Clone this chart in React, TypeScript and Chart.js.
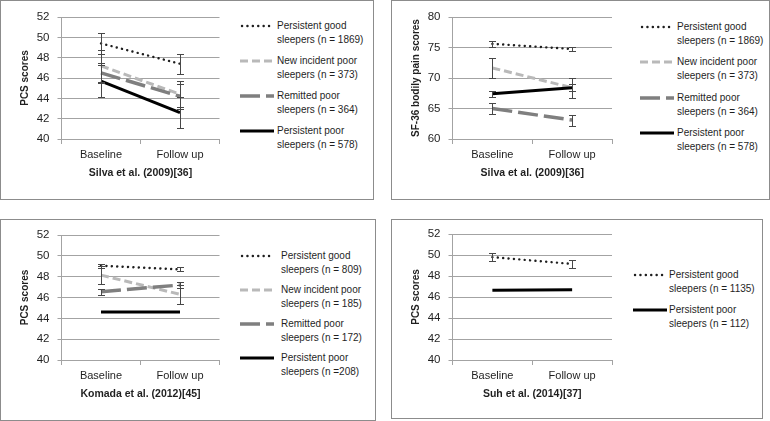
import React, { useEffect, useRef } from "react";
import { Chart, registerables } from "chart.js";

Chart.register(...registerables);
Chart.defaults.font.family = "'Liberation Sans', Arial, sans-serif";

// ---------- data ----------
const categories = ["Baseline", "Follow up"];
const pcsTicks = [40, 42, 44, 46, 48, 50, 52];
const painTicks = [60, 65, 70, 75, 80];

// Silva et al. (2009) – PCS
const silvaPcsGood = [49.4, 47.4];
const silvaPcsGoodErr = [1.05, 1.0];
const silvaPcsNewIncident = [47.2, 44.4];
const silvaPcsNewIncidentErr = [1.6, 1.3];
const silvaPcsRemitted = [46.5, 44.2];
const silvaPcsRemittedErr = [1.0, 1.2];
const silvaPcsPoor = [45.7, 42.6];
const silvaPcsPoorErr = [1.6, 1.5];

// Silva et al. (2009) – SF-36 bodily pain
const silvaPainGood = [75.6, 74.75];
const silvaPainGoodErr = [0.5, 0.35];
const silvaPainNewIncident = [71.65, 68.4];
const silvaPainNewIncidentErr = [1.65, 1.6];
const silvaPainRemitted = [65.0, 63.1];
const silvaPainRemittedErr = [0.95, 0.9];
const silvaPainPoor = [67.4, 68.4];
const silvaPainPoorErr = [0.5, 0.55];

// Komada et al. (2012) – PCS
const komadaGood = [49.05, 48.7];
const komadaGoodErr = [0.2, 0.2];
const komadaNewIncident = [48.15, 46.3];
const komadaNewIncidentErr = [0.9, 0.9];
const komadaRemitted = [46.55, 47.2];
const komadaRemittedErr = [0.3, 0.25];
const komadaPoor = [44.6, 44.6];
const komadaPoorErr = [0, 0];

// Suh et al. (2014) – PCS
const suhGood = [49.8, 49.15];
const suhGoodErr = [0.38, 0.38];
const suhPoor = [46.65, 46.7];
const suhPoorErr = [0, 0];

// legend labels (two lines each)
const silvaLabels = [
  ["Persistent good", "sleepers (n = 1869)"],
  ["New incident poor", "sleepers (n = 373)"],
  ["Remitted poor", "sleepers (n = 364)"],
  ["Persistent poor", "sleepers (n = 578)"],
];
const komadaLabels = [
  ["Persistent good", "sleepers (n = 809)"],
  ["New incident poor", "sleepers (n = 185)"],
  ["Remitted poor", "sleepers (n = 172)"],
  ["Persistent poor", "sleepers (n =208)"],
];
const suhLabels = [
  ["Persistent good", "sleepers (n = 1135)"],
  ["Persistent poor", "sleepers (n = 112)"],
];

// ---------- styles ----------
const GRID = "#a3a3a3";
const TEXT = "#1f1f1f";
const BORDER = "#8c8c8c";

type Kind = "good" | "newIncident" | "remitted" | "poor";
const STYLE: Record<Kind, { color: string; width: number; dash: number[]; cap: CanvasLineCap }> = {
  good: { color: "#1e1e1e", width: 2.4, dash: [0.1, 5.3], cap: "round" },
  newIncident: { color: "#b9b9b9", width: 3, dash: [8, 4], cap: "butt" },
  remitted: { color: "#7f7f7f", width: 3.5, dash: [20, 6], cap: "butt" },
  poor: { color: "#000000", width: 3, dash: [], cap: "butt" },
};

type Series = { kind: Kind; values: number[]; errors: number[]; label: string[] };

type PanelCfg = {
  box: { left: number; top: number; width: number; height: number };
  canvas: { left: number; top: number; width: number; height: number };
  padTop: number;
  padRight: number;
  yWidth: number;
  xHeight: number;
  xTitlePad: number;
  xTitleSize: number;
  yTitle: string;
  xTitle: string;
  ticks: number[];
  series: Series[];
  legend: { sampleX: number; textX: number; firstY: number; step: number };
};

const panels: PanelCfg[] = [
  {
    box: { left: 0, top: 0, width: 374, height: 200 },
    canvas: { left: 0, top: 0, width: 232, height: 199 },
    padTop: 17,
    padRight: 12.5,
    yWidth: 61.5,
    xHeight: 60,
    xTitlePad: 20,
    xTitleSize: 10.5,
    yTitle: "PCS scores",
    xTitle: "Silva et al. (2009)[36]",
    ticks: pcsTicks,
    series: [
      { kind: "good", values: silvaPcsGood, errors: silvaPcsGoodErr, label: silvaLabels[0] },
      { kind: "newIncident", values: silvaPcsNewIncident, errors: silvaPcsNewIncidentErr, label: silvaLabels[1] },
      { kind: "remitted", values: silvaPcsRemitted, errors: silvaPcsRemittedErr, label: silvaLabels[2] },
      { kind: "poor", values: silvaPcsPoor, errors: silvaPcsPoorErr, label: silvaLabels[3] },
    ],
    legend: { sampleX: 240, textX: 277, firstY: 26, step: 35.1 },
  },
  {
    box: { left: 391, top: 0, width: 379, height: 200 },
    canvas: { left: 391, top: 0, width: 232, height: 199 },
    padTop: 17,
    padRight: 11,
    yWidth: 61.5,
    xHeight: 60,
    xTitlePad: 20,
    xTitleSize: 10.5,
    yTitle: "SF-36 bodily pain scores",
    xTitle: "Silva et al. (2009)[36]",
    ticks: painTicks,
    series: [
      { kind: "good", values: silvaPainGood, errors: silvaPainGoodErr, label: silvaLabels[0] },
      { kind: "newIncident", values: silvaPainNewIncident, errors: silvaPainNewIncidentErr, label: silvaLabels[1] },
      { kind: "remitted", values: silvaPainRemitted, errors: silvaPainRemittedErr, label: silvaLabels[2] },
      { kind: "poor", values: silvaPainPoor, errors: silvaPainPoorErr, label: silvaLabels[3] },
    ],
    legend: { sampleX: 640, textX: 677, firstY: 26.5, step: 35.5 },
  },
  {
    box: { left: 0, top: 219, width: 376, height: 202 },
    canvas: { left: 0, top: 219, width: 232, height: 201 },
    padTop: 16,
    padRight: 12.5,
    yWidth: 61.5,
    xHeight: 60,
    xTitlePad: 20,
    xTitleSize: 10.5,
    yTitle: "PCS scores",
    xTitle: "Komada et al. (2012)[45]",
    ticks: pcsTicks,
    series: [
      { kind: "good", values: komadaGood, errors: komadaGoodErr, label: komadaLabels[0] },
      { kind: "newIncident", values: komadaNewIncident, errors: komadaNewIncidentErr, label: komadaLabels[1] },
      { kind: "remitted", values: komadaRemitted, errors: komadaRemittedErr, label: komadaLabels[2] },
      { kind: "poor", values: komadaPoor, errors: komadaPoorErr, label: komadaLabels[3] },
    ],
    legend: { sampleX: 240, textX: 281, firstY: 256, step: 34.1 },
  },
  {
    box: { left: 391, top: 219, width: 372, height: 200 },
    canvas: { left: 391, top: 219, width: 232, height: 199 },
    padTop: 15,
    padRight: 11,
    yWidth: 61.5,
    xHeight: 58,
    xTitlePad: 18,
    xTitleSize: 10.5,
    yTitle: "PCS scores",
    xTitle: "Suh et al. (2014)[37]",
    ticks: pcsTicks,
    series: [
      { kind: "good", values: suhGood, errors: suhGoodErr, label: suhLabels[0] },
      { kind: "poor", values: suhPoor, errors: suhPoorErr, label: suhLabels[1] },
    ],
    legend: { sampleX: 633, textX: 669, firstY: 274.5, step: 35.7 },
  },
];

// ---------- error bar plugin ----------
const errorBarPlugin = {
  id: "errorBars",
  afterDatasetsDraw(chart: any) {
    const ctx = chart.ctx as CanvasRenderingContext2D;
    const yScale = chart.scales.y;
    chart.data.datasets.forEach((ds: any, i: number) => {
      const errs: number[] | undefined = ds.errors;
      if (!errs) return;
      const meta = chart.getDatasetMeta(i);
      meta.data.forEach((pt: any, j: number) => {
        const e = errs[j];
        if (!e) return;
        const v = ds.data[j] as number;
        const x = Math.round(pt.x) + 0.5;
        const yt = Math.round(yScale.getPixelForValue(v + e)) + 0.5;
        const yb = Math.round(yScale.getPixelForValue(v - e)) + 0.5;
        ctx.save();
        ctx.strokeStyle = "#474747";
        ctx.lineWidth = 1;
        ctx.setLineDash([]);
        ctx.beginPath();
        ctx.moveTo(x, yt);
        ctx.lineTo(x, yb);
        ctx.moveTo(x - 3.5, yt);
        ctx.lineTo(x + 3.5, yt);
        ctx.moveTo(x - 3.5, yb);
        ctx.lineTo(x + 3.5, yb);
        ctx.stroke();
        ctx.restore();
      });
    });
  },
};

function Sample({ kind }: { kind: Kind }) {
  const st = STYLE[kind];
  return (
    <svg width={35} height={8} style={{ display: "block" }}>
      <line
        x1={kind === "good" ? 2 : 0}
        y1={4}
        x2={34}
        y2={4}
        stroke={st.color}
        strokeWidth={st.width}
        strokeDasharray={st.dash.length ? st.dash.join(" ") : undefined}
        strokeLinecap={st.cap}
      />
    </svg>
  );
}

function Panel({ cfg }: { cfg: PanelCfg }) {
  const ref = useRef<HTMLCanvasElement>(null);
  useEffect(() => {
    const n = cfg.series.length;
    const chart = new Chart(ref.current as HTMLCanvasElement, {
      type: "line",
      data: {
        labels: categories,
        datasets: cfg.series.map((s, i) => {
          const st = STYLE[s.kind];
          return {
            label: s.label.join(" "),
            data: s.values,
            errors: s.errors,
            borderColor: st.color,
            backgroundColor: st.color,
            borderWidth: st.width,
            borderDash: st.dash,
            borderCapStyle: st.cap,
            pointRadius: 0,
            pointHoverRadius: 0,
            fill: false,
            tension: 0,
            order: n - 1 - i,
          } as any;
        }),
      },
      options: {
        responsive: false,
        animation: false,
        events: [],
        layout: { padding: { top: cfg.padTop, right: cfg.padRight, left: 0, bottom: 0 } },
        plugins: {
          legend: { display: false },
          tooltip: { enabled: false },
          title: { display: false },
        },
        scales: {
          x: {
            type: "category",
            offset: true,
            grid: { display: true, drawOnChartArea: false, offset: true, tickLength: 5, color: GRID, lineWidth: 1 },
            border: { display: true, color: GRID },
            ticks: { font: { size: 11 }, color: TEXT, padding: 4, maxRotation: 0 },
            title: {
              display: true,
              text: cfg.xTitle,
              font: { size: cfg.xTitleSize, weight: "bold" },
              color: TEXT,
              padding: { top: 0, bottom: cfg.xTitlePad },
            },
            afterFit: (s: any) => {
              s.height = cfg.xHeight;
            },
          },
          y: {
            min: cfg.ticks[0],
            max: cfg.ticks[cfg.ticks.length - 1],
            afterBuildTicks: (s: any) => {
              s.ticks = cfg.ticks.map((v) => ({ value: v }));
            },
            grid: { color: GRID, tickLength: 4, lineWidth: 1 },
            border: { display: true, color: GRID },
            ticks: { font: { size: 11.5 }, color: TEXT, padding: 8 },
            title: {
              display: true,
              text: cfg.yTitle,
              font: { size: 10, weight: "bold" },
              color: TEXT,
              padding: { top: 19, bottom: 0 },
            },
            afterFit: (s: any) => {
              s.width = cfg.yWidth;
            },
          },
        },
      } as any,
      plugins: [errorBarPlugin as any],
    });
    return () => chart.destroy();
  }, []);

  return (
    <>
      <div
        style={{
          position: "absolute",
          left: cfg.box.left,
          top: cfg.box.top,
          width: cfg.box.width,
          height: cfg.box.height,
          border: `1px solid ${BORDER}`,
          boxSizing: "border-box",
          background: "#fff",
        }}
      />
      <canvas
        ref={ref}
        width={cfg.canvas.width}
        height={cfg.canvas.height}
        style={{
          position: "absolute",
          left: cfg.canvas.left,
          top: cfg.canvas.top,
          width: cfg.canvas.width,
          height: cfg.canvas.height,
        }}
      />
      {cfg.series.map((s, i) => {
        const cy = cfg.legend.firstY + i * cfg.legend.step;
        return (
          <React.Fragment key={i}>
            <div style={{ position: "absolute", left: cfg.legend.sampleX, top: cy - 4 }}>
              <Sample kind={s.kind} />
            </div>
            <div
              style={{
                position: "absolute",
                left: cfg.legend.textX,
                top: cy - 7,
                fontFamily: "'Liberation Sans', Arial, sans-serif",
                fontSize: 10,
                lineHeight: "14px",
                color: TEXT,
                whiteSpace: "nowrap",
              }}
            >
              {s.label[0]}
              <br />
              {s.label[1]}
            </div>
          </React.Fragment>
        );
      })}
    </>
  );
}

export default function App() {
  return (
    <div
      style={{
        position: "absolute",
        left: 0,
        top: 0,
        width: 770,
        height: 421,
        background: "#fff",
        overflow: "hidden",
      }}
    >
      {panels.map((p, i) => (
        <Panel key={i} cfg={p} />
      ))}
    </div>
  );
}
